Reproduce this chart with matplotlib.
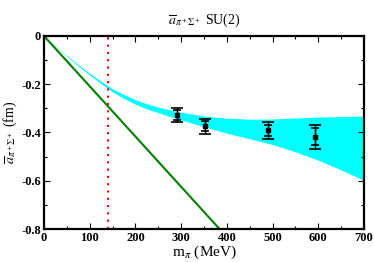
import matplotlib
matplotlib.use("Agg")
import matplotlib.pyplot as plt
from matplotlib.ticker import MultipleLocator, FuncFormatter

plt.rcParams['font.family'] = ['Liberation Serif', 'DejaVu Serif']
plt.rcParams['mathtext.fontset'] = 'stix'

# lattice points: pion mass (MeV), scattering length (fm), inner / outer errors
m_pi = [290, 352, 489, 592]
a_val = [-0.328, -0.372, -0.390, -0.418]
err_in_lo = [0.021, 0.022, 0.025, 0.034]
err_in_hi = [0.021, 0.021, 0.022, 0.035]
err_out_lo = [0.028, 0.035, 0.037, 0.051]
err_out_hi = [0.028, 0.029, 0.033, 0.049]

# SU(2) fit band
band_x = [0, 25, 50, 75, 100, 125, 150, 175, 200, 225, 250, 275, 300,
          350, 400, 450, 500, 550, 600, 650, 700]
band_hi = [0, -0.041, -0.081, -0.119, -0.155, -0.188, -0.219, -0.243, -0.264,
           -0.281, -0.295, -0.306, -0.316, -0.332, -0.341, -0.345, -0.344,
           -0.340, -0.336, -0.334, -0.332]
band_lo = [0, -0.042, -0.084, -0.124, -0.162, -0.198, -0.232, -0.259, -0.283,
           -0.302, -0.318, -0.333, -0.348, -0.376, -0.403, -0.426, -0.450,
           -0.480, -0.515, -0.555, -0.598]

# leading order line
lo_x = [0, 384]
lo_y = [0, -0.8]

m_phys = 139.57

fig = plt.figure(figsize=(3.74, 2.62), dpi=100)
ax = fig.add_axes([44 / 374, 1 - 229 / 262, 320 / 374, 193 / 262])

ax.fill_between(band_x, band_lo, band_hi, color='#00ffff', lw=0)
ax.plot(lo_x, lo_y, color='#008000', lw=1.5)
ax.axvline(m_phys, color='red', ls=(0, (1, 2.5)), lw=1.5)

ax.errorbar(m_pi, a_val, yerr=[err_out_lo, err_out_hi], fmt='none',
            ecolor='black', elinewidth=1, capsize=4, capthick=1.2)
ax.errorbar(m_pi, a_val, yerr=[err_in_lo, err_in_hi], fmt='s', color='black',
            ms=3.5, ecolor='black', elinewidth=1, capsize=3, capthick=1.2)

ax.set_xlim(0, 700)
ax.set_ylim(-0.8, 0)
ax.xaxis.set_major_locator(MultipleLocator(100))
ax.xaxis.set_minor_locator(MultipleLocator(50))
ax.yaxis.set_major_locator(MultipleLocator(0.2))
ax.yaxis.set_minor_locator(MultipleLocator(0.1))
ax.yaxis.set_major_formatter(FuncFormatter(lambda v, p: '0' if abs(v) < 1e-9 else f'{v:.1f}'.replace('\u2212', '-')))
ax.tick_params(which='both', direction='in', top=True, right=True, width=0.8)
ax.tick_params(which='major', length=4, labelsize=9, pad=2)
ax.tick_params(which='minor', length=2)
for lab in ax.get_xticklabels() + ax.get_yticklabels():
    lab.set_fontweight('bold')
for sp in ax.spines.values():
    sp.set_linewidth(1.6)

ax.set_xlabel(r'm$_\pi$ (MeV)', fontsize=11, labelpad=0)
ax.set_ylabel(r'$\overline{a}_{\pi^+\Sigma^+}$ (fm)', fontsize=10, labelpad=2)
ax.set_title(r'$\overline{a}_{\pi^+\Sigma^+}$ SU(2)', fontsize=10, pad=9)

fig.savefig('out.png', dpi=100)
